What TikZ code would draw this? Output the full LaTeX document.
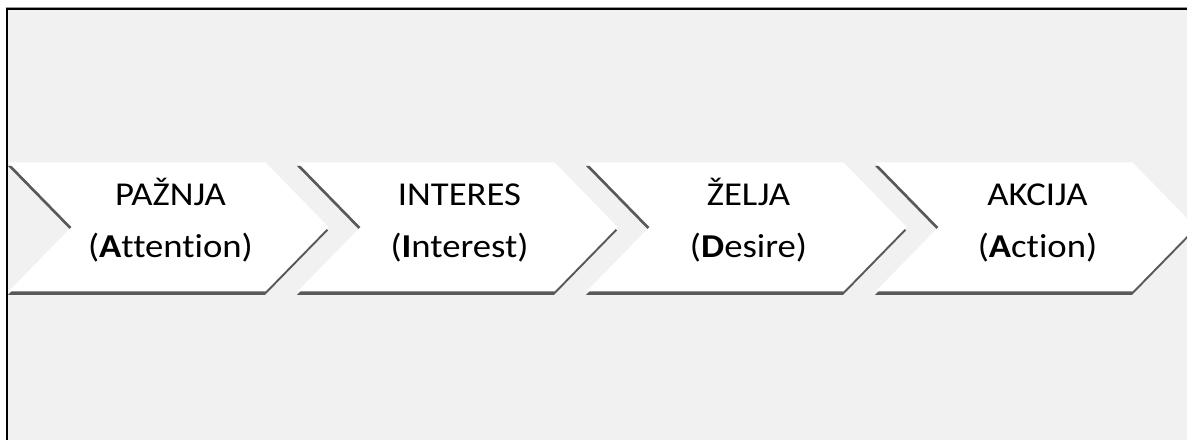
\documentclass[tikz,border=0pt]{standalone}
\usepackage{fontspec}
\setmainfont{Carlito}[FakeStretch=1.1,Ligatures={NoCommon,NoRequired,NoContextual}]
\definecolor{bg}{HTML}{F1F1F1}
\definecolor{shade}{HTML}{595959}
\definecolor{rim}{HTML}{9A9A9A}
\begin{document}
\begin{tikzpicture}[x=1bp,y=-1bp,
  chevbody/.style={fill=white},
  chevshadow/.style={fill=shade},
  frameline/.style={line width=2bp,draw=black},
  lbl/.style={anchor=base,inner sep=0pt,text=black,font=\fontsize{33.5}{40}\selectfont}]
\useasboundingbox (0,0) rectangle (1187,440);
\fill[white] (0,0) rectangle (1187,440);
\fill[bg] (6,9) rectangle (1187,440);
\begin{scope}
\clip (7.5,10.5) rectangle (1187,440);
\foreach \i/\ta/\tb [evaluate=\i as \xo using 8.5+289*\i] in
  {0/PAŽNJA/(\textbf{A}ttention),
   1/INTERES/(\textbf{I}nterest),
   2/ŽELJA/(\textbf{D}esire),
   3/AKCIJA/(\textbf{A}ction)}{
  \fill[chevshadow,shift={(0,3.5)}] (\xo-0.5,162.5) -- ++(257,0) -- ++(63,64.5) -- ++(-63,64.5) -- ++(-257,0) -- ++(63,-64.5) -- cycle;
  \fill[chevbody] (\xo,162.5) -- ++(257,0) -- ++(63,64.5) -- ++(-63,64.5) -- ++(-257,0) -- ++(63,-64.5) -- cycle;
  \node[lbl] (a\i) at (\xo+162,206) {\ta};
  \node[lbl] (b\i) at (\xo+162,258) {\tb};
}
\end{scope}
\draw[rim,line width=1bp] (5.5,8) -- (1187,8);
\draw[frameline] (6.5,440) -- (6.5,9.5) -- (1187,9.5);
\end{tikzpicture}
\end{document}
